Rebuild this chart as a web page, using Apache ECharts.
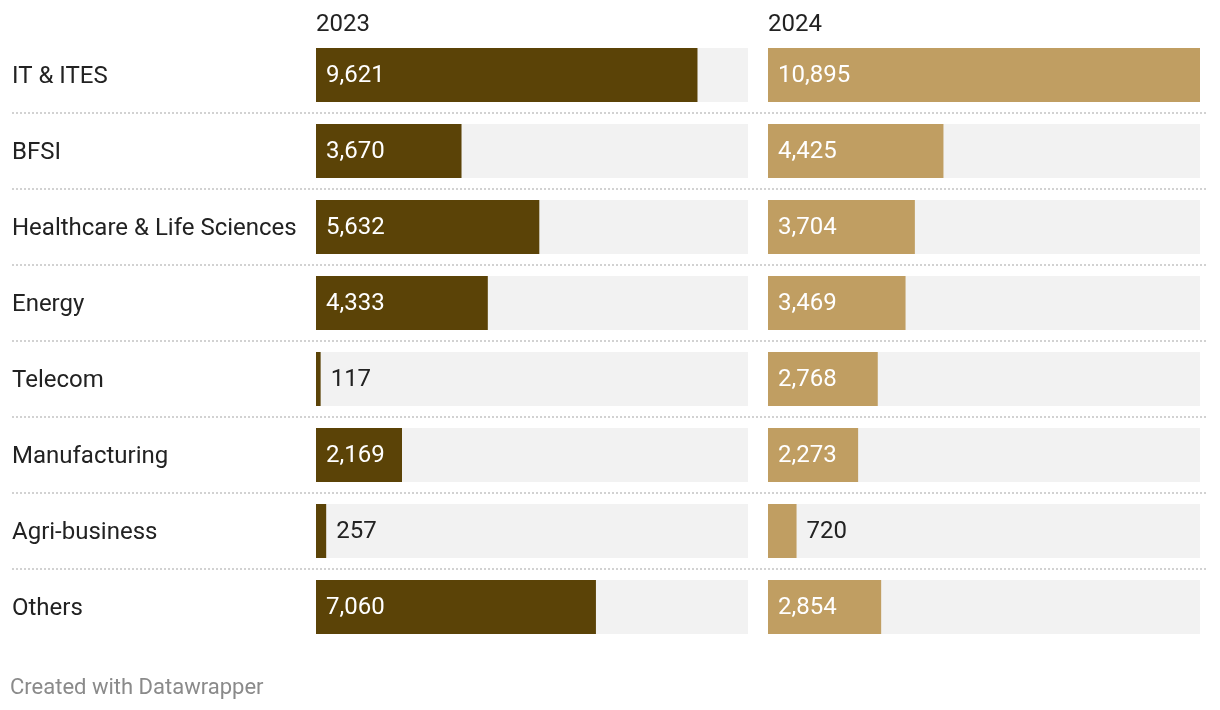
<!DOCTYPE html>
<html>
<head>
<meta charset="utf-8">
<script src="https://cdn.jsdelivr.net/npm/echarts@6/dist/echarts.min.js"></script>
<style>
html,body{margin:0;padding:0;background:#fff;}
#chart{width:1220px;height:710px;}
</style>
</head>
<body>
<div id="chart"></div>
<script>
const categories = ["IT & ITES","BFSI","Healthcare & Life Sciences","Energy","Telecom","Manufacturing","Agri-business","Others"];
const values2023 = [9621,3670,5632,4333,117,2169,257,7060];
const values2024 = [10895,4425,3704,3469,2768,2273,720,2854];
const seriesNames = ["2023","2024"];
const footerText = "Created with Datawrapper";

const FONT = "Roboto, 'Noto Sans', sans-serif";
const maxValue = Math.max(...values2023, ...values2024);
const colors = ["#5b4307", "#c09e62"];

function items(vals){
  return vals.map(v => {
    const inside = v / maxValue > 0.12;
    return {
      value: v,
      label: inside
        ? {show:true, position:'insideLeft', distance:10, color:'#ffffff'}
        : {show:true, position:'right', distance:10, color:'#222222'}
    };
  });
}

const chart = echarts.init(document.getElementById('chart'), null, {renderer:'canvas'});
const gridTop = 37, rowH = 76;
const option = {
  animation:false,
  backgroundColor:'#ffffff',
  title:[
    {text:seriesNames[0], left:316, top:13, padding:0, textStyle:{fontFamily:FONT, fontSize:24, fontWeight:'normal', color:'#222'}},
    {text:seriesNames[1], left:768, top:13, padding:0, textStyle:{fontFamily:FONT, fontSize:24, fontWeight:'normal', color:'#222'}},
    {text:footerText, left:10, top:677, padding:0, textStyle:{fontFamily:FONT, fontSize:22, fontWeight:'normal', color:'#8a8a8a'}}
  ],
  grid:[
    {left:316, width:432, top:gridTop, height:rowH*categories.length},
    {left:768, width:432, top:gridTop, height:rowH*categories.length},
    {left:12, width:1196, top:gridTop+rowH, height:rowH*(categories.length-2)}
  ],
  xAxis:[
    {gridIndex:0, type:'value', min:0, max:maxValue, show:false},
    {gridIndex:1, type:'value', min:0, max:maxValue, show:false},
    {gridIndex:2, type:'value', min:0, max:1, show:false}
  ],
  yAxis:[
    {gridIndex:0, type:'category', inverse:true, data:categories,
      axisLine:{show:false}, axisTick:{show:false}, splitLine:{show:false},
      axisLabel:{show:true, align:'left', margin:304,
        formatter: v => '{a|' + v + '}',
        rich:{a:{fontFamily:FONT, fontSize:24, color:'#222', padding:[4,0,0,0]}}}},
    {gridIndex:1, type:'category', inverse:true, data:categories,
      axisLine:{show:false}, axisTick:{show:false}, splitLine:{show:false}, axisLabel:{show:false}},
    {gridIndex:2, type:'category', inverse:true, boundaryGap:false, data:categories.slice(1),
      axisLine:{show:false}, axisTick:{show:false}, axisLabel:{show:false},
      splitLine:{show:true, lineStyle:{color:'#d2d2d2', width:2, type:[2,2]}}}
  ],
  series:[
    {type:'bar', name:seriesNames[0], xAxisIndex:0, yAxisIndex:0, data:items(values2023), barWidth:54,
      itemStyle:{color:colors[0]}, showBackground:true, backgroundStyle:{color:'#f2f2f2'},
      label:{fontFamily:FONT, fontSize:24, offset:[0,1], formatter:p => p.value.toLocaleString('en-US')}},
    {type:'bar', name:seriesNames[1], xAxisIndex:1, yAxisIndex:1, data:items(values2024), barWidth:54,
      itemStyle:{color:colors[1]}, showBackground:true, backgroundStyle:{color:'#f2f2f2'},
      label:{fontFamily:FONT, fontSize:24, offset:[0,1], formatter:p => p.value.toLocaleString('en-US')}}
  ]
};
chart.setOption(option);
</script>
</body>
</html>
